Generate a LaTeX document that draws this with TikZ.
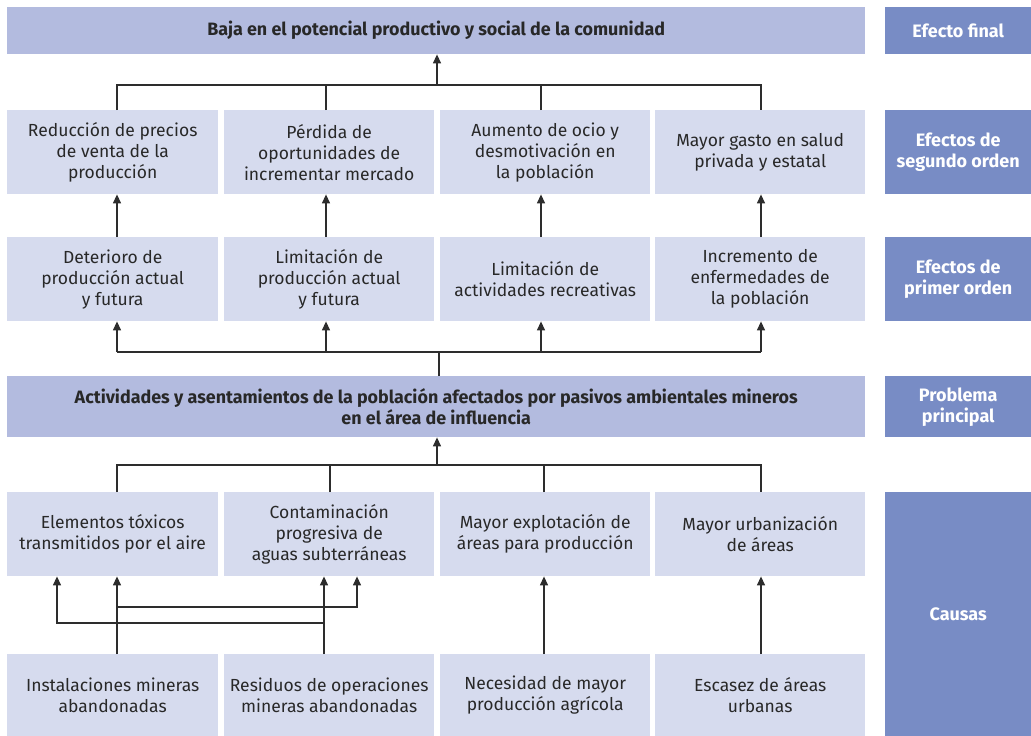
\documentclass[tikz,border=0pt]{standalone}
\usepackage{fontspec}
\setmainfont{Fira Sans}
\usetikzlibrary{arrows.meta}
\definecolor{boxlight}{RGB}{214,219,238}
\definecolor{boxmid}{RGB}{179,187,223}
\definecolor{boxdark}{RGB}{120,140,197}
\definecolor{ink}{RGB}{40,40,40}
\definecolor{wire}{RGB}{45,45,45}
\tikzset{
  cell/.style={fill=boxlight, draw=none, inner sep=0pt, anchor=north west,
    align=center, text=ink, font=\fontsize{17.5}{21}\selectfont},
  bar/.style={fill=boxmid, draw=none, inner sep=0pt, anchor=north west,
    align=center, text=ink, font=\fontsize{17.9}{21}\selectfont\bfseries},
  tag/.style={fill=boxdark, draw=none, inner sep=0pt, anchor=north west,
    align=center, text=white, font=\fontsize{18}{21}\selectfont\bfseries},
  link/.style={draw=wire, line width=1.3pt},
  arrow/.style={link, -{Triangle[width=8pt,length=9pt]}}
}
\begin{document}
\begin{tikzpicture}[x=1pt,y=-1pt]
\useasboundingbox (0,0) rectangle (1031,736);

% column positions of the vertical connectors
\coordinate (c1) at (117,0);
\coordinate (c2) at (326,0);
\coordinate (c3) at (541,0);
\coordinate (c4) at (761,0);
\coordinate (mid) at (437,0);

% final effect
\node[bar, minimum width=858pt, minimum height=47pt] (top) at (7,7)
  {Baja en el potencial productivo y social de la comunidad};

% second-order effects
\node[cell, minimum width=211pt, minimum height=84pt] (s1) at (7,110)
  {Reducción de precios\\de venta de la\\producción};
\node[cell, minimum width=210pt, minimum height=84pt] (s2) at (224,110)
  {Pérdida de\\oportunidades de\\incrementar mercado};
\node[cell, minimum width=210pt, minimum height=84pt] (s3) at (440,110)
  {Aumento de ocio y\\desmotivación en\\la población};
\node[cell, minimum width=210pt, minimum height=84pt] (s4) at (655,110)
  {Mayor gasto en salud\\privada y estatal};

% first-order effects
\node[cell, minimum width=211pt, minimum height=84pt] (f1) at (7,237)
  {Deterioro de\\producción actual\\y futura};
\node[cell, minimum width=210pt, minimum height=84pt] (f2) at (224,237)
  {Limitación de\\producción actual\\y futura};
\node[cell, minimum width=210pt, minimum height=84pt] (f3) at (440,237)
  {Limitación de\\actividades recreativas};
\node[cell, minimum width=210pt, minimum height=84pt] (f4) at (655,237)
  {Incremento de\\enfermedades de\\la población};

% main problem
\node[bar, minimum width=858pt, minimum height=61pt] (prob) at (7,376)
  {Actividades y asentamientos de la población afectados por pasivos ambientales mineros\\en el área de influencia};

% causes
\node[cell, minimum width=211pt, minimum height=84pt] (k1) at (7,492)
  {Elementos tóxicos\\transmitidos por el aire};
\node[cell, minimum width=210pt, minimum height=84pt] (k2) at (224,492)
  {Contaminación\\progresiva de\\aguas subterráneas};
\node[cell, minimum width=210pt, minimum height=84pt] (k3) at (440,492)
  {Mayor explotación de\\áreas para producción};
\node[cell, minimum width=210pt, minimum height=84pt] (k4) at (655,492)
  {Mayor urbanización\\de áreas};

% root causes
\node[cell, minimum width=211pt, minimum height=82pt] (r1) at (7,654)
  {Instalaciones mineras\\abandonadas};
\node[cell, minimum width=210pt, minimum height=82pt] (r2) at (224,654)
  {Residuos de operaciones\\mineras abandonadas};
\node[cell, minimum width=210pt, minimum height=82pt] (r3) at (440,654)
  {Necesidad de mayor\\producción agrícola};
\node[cell, minimum width=210pt, minimum height=82pt] (r4) at (655,654)
  {Escasez de áreas\\urbanas};

% level labels
\node[tag, minimum width=146pt, minimum height=47pt] (l1) at (885,7) {Efecto final};
\node[tag, minimum width=146pt, minimum height=84pt] (l2) at (885,110) {Efectos de\\segundo orden};
\node[tag, minimum width=146pt, minimum height=84pt] (l3) at (885,237) {Efectos de\\primer orden};
\node[tag, minimum width=146pt, minimum height=61pt] (l4) at (885,376) {Problema\\principal};
\node[tag, minimum width=146pt, minimum height=244pt] (l5) at (885,492) {Causas};

% second-order effects converge on the final effect
\coordinate (j1) at (117,85);
\coordinate (j1r) at (761,85);
\draw[link] (s1.north -| c1) -- (j1) -- (j1r) -- (s4.north -| c4);
\draw[link] (s2.north -| c2) -- (j1 -| c2);
\draw[link] (s3.north -| c3) -- (j1 -| c3);
\draw[arrow] (j1 -| mid) -- (top.south -| mid);

% first-order to second-order effects
\foreach \i in {1,2,3,4}
  \draw[arrow] (f\i.north -| c\i) -- (s\i.south -| c\i);

% main problem spreads to first-order effects
\coordinate (j2) at (117,352);
\coordinate (j2r) at (761,352);
\draw[link] (prob.north -| 439,0) -- (j2 -| 439,0);
\draw[link] (j2) -- (j2r);
\foreach \i in {1,2,3,4}
  \draw[arrow] (j2 -| c\i) -- (f\i.south -| c\i);

% causes converge on the main problem
\coordinate (j3) at (117,465);
\coordinate (j3r) at (761,465);
\draw[link] (k1.north -| c1) -- (j3) -- (j3r) -- (k4.north -| c4);
\draw[link] (k2.north -| 330,0) -- (j3 -| 330,0);
\draw[link] (k3.north -| 544,0) -- (j3 -| 544,0);
\draw[arrow] (j3 -| mid) -- (prob.south -| mid);

% root causes to causes
\coordinate (b1) at (357,607);
\coordinate (b2) at (57,623);
\draw[arrow] (r1.north -| c1) -- (k1.south -| c1);
\draw[arrow] (b1 -| c1) -- (b1) -- (k2.south -| b1);
\draw[arrow] (r2.north -| 324,0) -- (k2.south -| 324,0);
\draw[arrow] (b2 -| 324,0) -- (b2) -- (k1.south -| b2);
\draw[arrow] (r3.north -| 544,0) -- (k3.south -| 544,0);
\draw[arrow] (r4.north -| c4) -- (k4.south -| c4);
\end{tikzpicture}
\end{document}
